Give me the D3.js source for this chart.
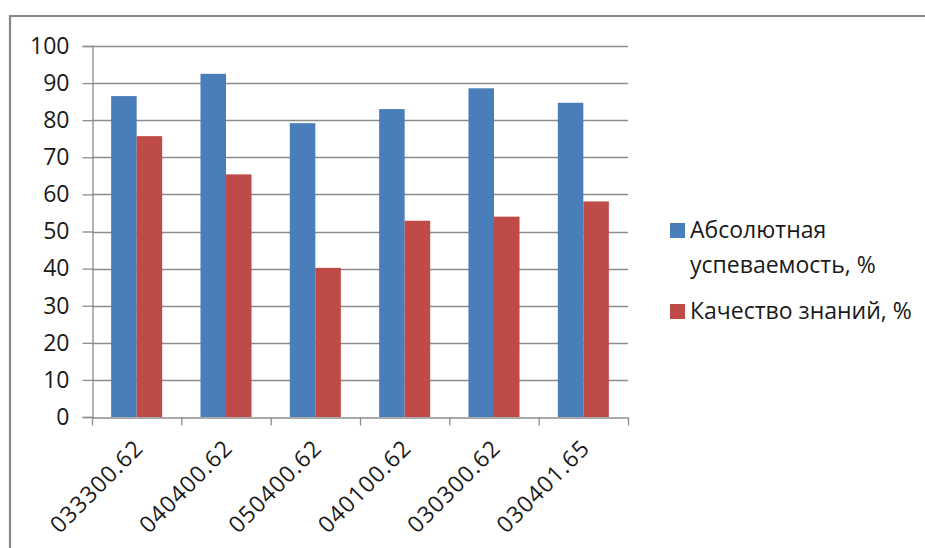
<!DOCTYPE html>
<html>
<head>
<meta charset="utf-8">
<script src="https://cdn.jsdelivr.net/npm/d3@7"></script>
<style>
  html, body { margin: 0; padding: 0; background: #fff; }
  svg { display: block; }
  text { font-family: "Open Sans", "DejaVu Sans", sans-serif; fill: #1a1a1a; }
</style>
</head>
<body>
<svg id="chart" width="925" height="548"></svg>
<script>
const categories = ["033300.62", "040400.62", "050400.62", "040100.62", "030300.62", "030401.65"];
const seriesNames = ["Абсолютная успеваемость, %", "Качество знаний, %"];
const absoluteProgress = [86.5, 92.5, 79.2, 83.0, 88.6, 84.7];
const knowledgeQuality = [75.7, 65.4, 40.2, 52.9, 54.0, 58.1];
const yTicks = [0, 10, 20, 30, 40, 50, 60, 70, 80, 90, 100];
const colors = ["#4a7ebb", "#be4b48"];

const svg = d3.select("#chart");
const W = 925, H = 548;

// outer frame
svg.append("path")
  .attr("d", `M10,${H} L10,16 L${W},16`)
  .attr("fill", "none").attr("stroke", "#878787").attr("stroke-width", 2.2);

const plot = { left: 92, right: 628, top: 46, bottom: 417 };

const x0 = d3.scaleBand().domain(categories).range([plot.left, plot.right]).paddingInner(0).paddingOuter(0);
const x1 = d3.scaleBand().domain([0, 1]).range([0, x0.bandwidth()]).paddingInner(0).paddingOuter(0.75);
const y = d3.scaleLinear().domain([0, 100]).range([plot.bottom, plot.top]);

// gridlines
const grid = svg.append("g");
grid.selectAll("line").data(yTicks.filter(d => d > 0)).join("line")
  .attr("x1", plot.left).attr("x2", plot.right)
  .attr("y1", d => Math.round(y(d)) + 0.5).attr("y2", d => Math.round(y(d)) + 0.5)
  .attr("stroke", "#8c8c8c").attr("stroke-width", 1.3);

// bars
const data = categories.map((c, i) => ({ c, v: [absoluteProgress[i], knowledgeQuality[i]] }));
const groups = svg.append("g").selectAll("g").data(data).join("g")
  .attr("transform", d => `translate(${x0(d.c)},0)`);
groups.selectAll("rect").data(d => d.v.map((v, s) => ({ v, s }))).join("rect")
  .attr("x", d => x1(d.s))
  .attr("width", x1.bandwidth())
  .attr("y", d => y(d.v))
  .attr("height", d => y(0) - y(d.v))
  .attr("fill", d => colors[d.s]);

// y axis
const yAxis = d3.axisLeft(y).tickValues(yTicks).tickSize(10).tickPadding(13).tickFormat(d3.format("d"));
const gy = svg.append("g").attr("transform", `translate(${plot.left + 0.5},0)`).call(yAxis);
gy.select(".domain").attr("stroke", "#8c8c8c").attr("stroke-width", 1.3);
gy.selectAll(".tick line").attr("stroke", "#8c8c8c").attr("stroke-width", 1.3);
gy.selectAll(".tick text").attr("font-size", 23).attr("fill", "#1a1a1a")
  .style("font-family", '"Open Sans", sans-serif');

// x axis
const xAxis = d3.axisBottom(x0).tickSize(0).tickFormat("");
const gx = svg.append("g").attr("transform", `translate(0,${plot.bottom + 0.5})`).call(xAxis);
gx.select(".domain").attr("stroke", "#8c8c8c").attr("stroke-width", 1.3);
// boundary ticks
const bounds = categories.map(c => x0(c)).concat([x0.range()[1]]);
gx.selectAll(".bound").data(bounds).join("line").attr("class", "bound")
  .attr("x1", d => d + 0.5).attr("x2", d => d + 0.5).attr("y1", 0).attr("y2", 8)
  .attr("stroke", "#8c8c8c").attr("stroke-width", 1.3);
// rotated labels
gx.selectAll(".lbl").data(categories).join("text").attr("class", "lbl")
  .attr("text-anchor", "end")
  .attr("font-size", 23)
  .attr("letter-spacing", 1)
  .attr("transform", d => `translate(${x0(d) + x0.bandwidth() / 2 + 8},${32}) rotate(-45)`)
  .text(d => d);

// legend
const legend = svg.append("g");
const legendItems = [
  { lines: ["Абсолютная", "успеваемость, %"], color: colors[0], y: 230 },
  { lines: ["Качество знаний, %"], color: colors[1], y: 311 }
];
legendItems.forEach(item => {
  legend.append("rect").attr("x", 670).attr("y", item.y - 7).attr("width", 15).attr("height", 15).attr("fill", item.color);
  const t = legend.append("text").attr("x", 690).attr("y", item.y + 8).attr("font-size", 23);
  item.lines.forEach((ln, i) => {
    t.append("tspan").attr("x", 690).attr("dy", i === 0 ? 0 : 35).text(ln);
  });
});
</script>
</body>
</html>
